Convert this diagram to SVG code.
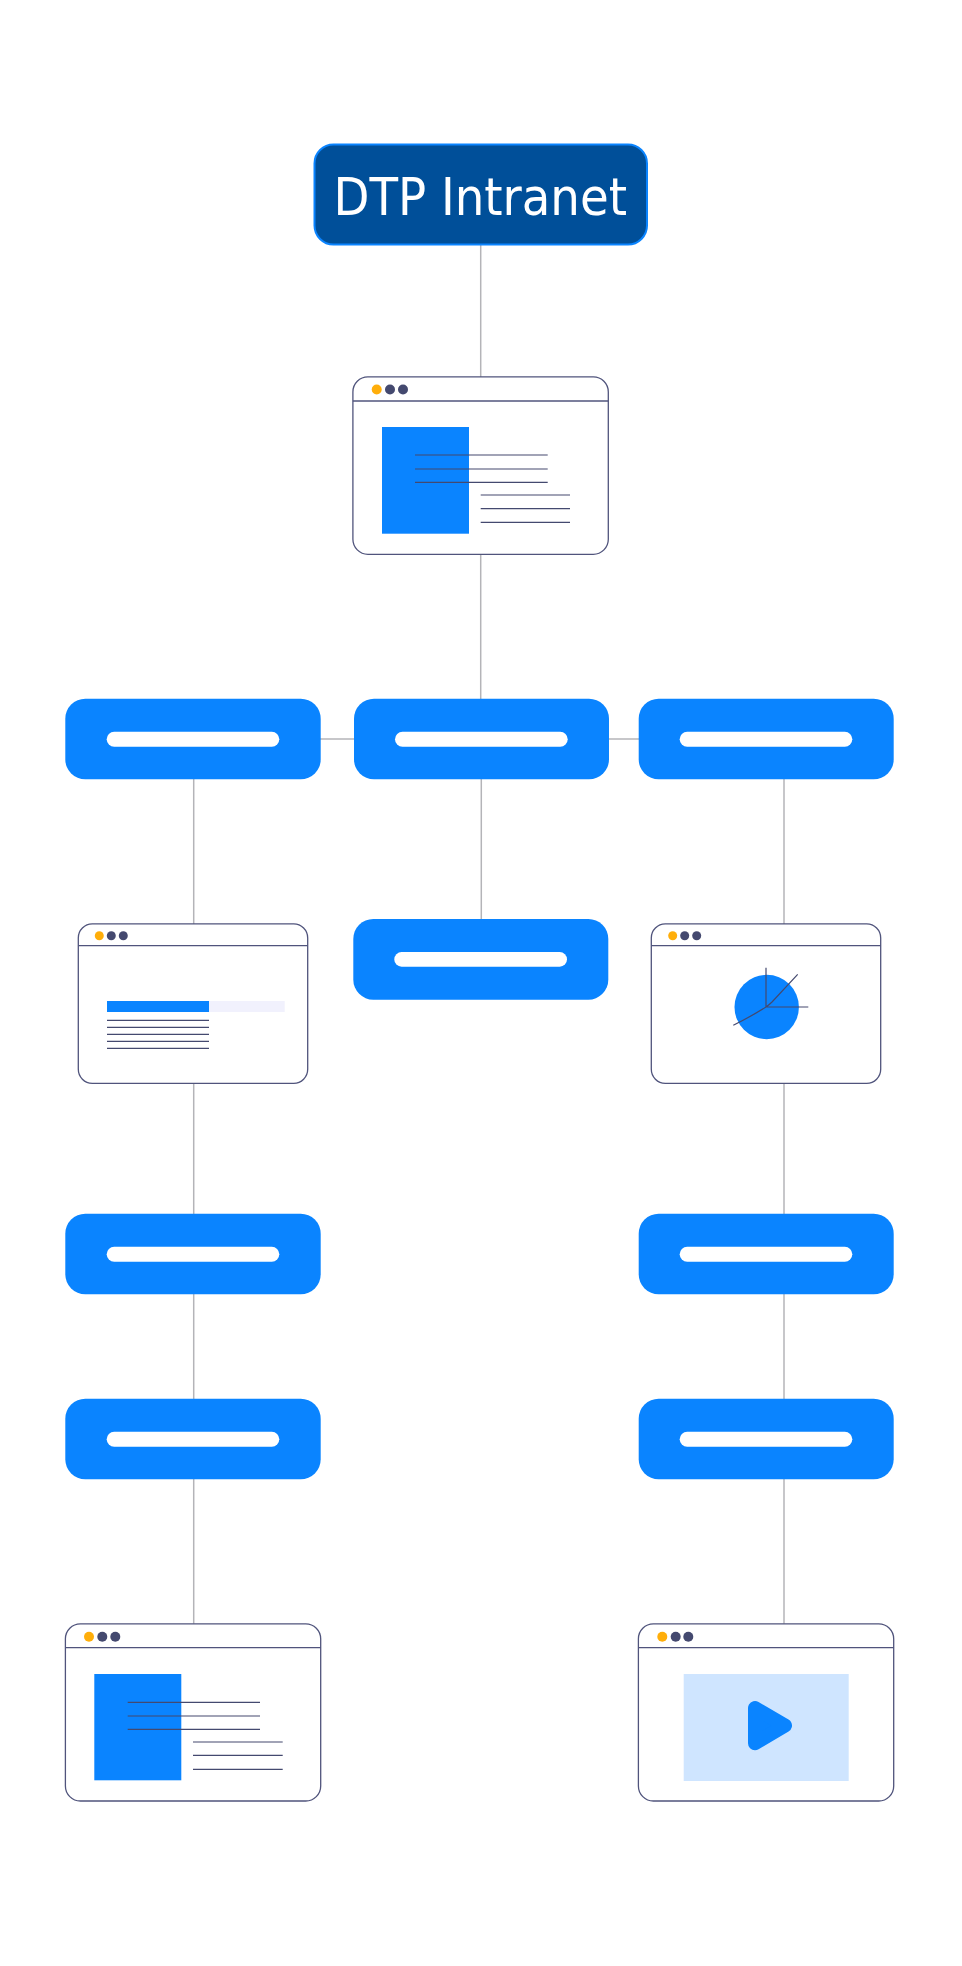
<svg xmlns="http://www.w3.org/2000/svg" width="962" height="1966" viewBox="0 0 962 1966">
<style>
.conn{stroke:#b4b4b8;stroke-width:1.5;fill:none}
.blue{fill:#0a84ff}
.bar{fill:#fff}
.win{fill:#fff;stroke:#50547c;stroke-width:1.3}
.rule{stroke:#50547c;stroke-width:1.3;fill:none}
.ln{stroke:#44496f;stroke-width:1.2;fill:none}
.amber{fill:#ffae0a}
.dot{fill:#44496f}
.title{font-family:"DejaVu Sans","Liberation Sans",sans-serif;font-stretch:condensed;font-size:52px;fill:#fff}
</style>
<rect width="962" height="1966" fill="#fff"/>
<g id="connectors">
<path class="conn" d="M480.7 245V377"/>
<path class="conn" d="M480.7 554V699"/>
<path class="conn" d="M320 739H355"/>
<path class="conn" d="M608 739H640"/>
<path class="conn" d="M481.3 779V919"/>
<path class="conn" d="M193.7 779V924"/>
<path class="conn" d="M784 779V924"/>
<path class="conn" d="M193.7 1083V1214"/>
<path class="conn" d="M784 1083V1214"/>
<path class="conn" d="M193.7 1294V1399"/>
<path class="conn" d="M784 1294V1399"/>
<path class="conn" d="M193.7 1479V1624"/>
<path class="conn" d="M784 1479V1624"/>
</g>
<g id="root">
<rect x="314.5" y="144.5" width="332.5" height="100" rx="19" fill="#004f99" stroke="#0a84ff" stroke-width="2"/>
<text class="title" x="333.5" y="215" textLength="293.5" lengthAdjust="spacingAndGlyphs">DTP Intranet</text>
</g>
<g id="window-top">
<rect class="win" x="352.9" y="376.9" width="255.4" height="177.4" rx="15"/>
<path class="rule" d="M352.9 401H608.3"/>
<circle class="amber" cx="376.7" cy="389.5" r="5"/><circle class="dot" cx="390" cy="389.5" r="5"/><circle class="dot" cx="403" cy="389.5" r="5"/>
<rect class="blue" x="382" y="427" width="87" height="106.7"/>
<path class="ln" d="M415 455H547.7M415 469H547.7M415 482.3H547.7M480.7 495H570M480.7 508.7H570M480.7 522.3H570"/>
</g>
<g id="node-left">
<rect class="blue" x="65.3" y="698.7" width="255.4" height="80.6" rx="20"/>
<rect class="bar" x="106.7" y="731.7" width="172.6" height="15" rx="7.5"/>
</g>
<g id="node-center">
<rect class="blue" x="354" y="698.7" width="255" height="80.6" rx="20"/>
<rect class="bar" x="395" y="731.7" width="172.7" height="15" rx="7.5"/>
</g>
<g id="node-right">
<rect class="blue" x="638.7" y="698.7" width="255" height="80.6" rx="20"/>
<rect class="bar" x="679.7" y="731.7" width="172.6" height="15" rx="7.5"/>
</g>
<g id="node-center-2">
<rect class="blue" x="353.3" y="919" width="255" height="80.7" rx="20"/>
<rect class="bar" x="394.3" y="952" width="172.7" height="14.7" rx="7.3"/>
</g>
<g id="window-table">
<rect class="win" x="78.3" y="923.9" width="229.4" height="159.4" rx="14"/>
<path class="rule" d="M78.3 945.7H307.7"/>
<circle class="amber" cx="99.3" cy="935.7" r="4.5"/><circle class="dot" cx="111.3" cy="935.7" r="4.5"/><circle class="dot" cx="123.3" cy="935.7" r="4.5"/>
<rect class="blue" x="107" y="1001" width="102" height="11"/>
<rect x="209" y="1001" width="75.7" height="11" fill="#f1f1fd"/>
<path class="ln" d="M107 1020.3H209M107 1027.3H209M107 1034.3H209M107 1041.3H209M107 1048.3H209"/>
</g>
<g id="window-chart">
<rect class="win" x="651.3" y="923.9" width="229.4" height="159.4" rx="14"/>
<path class="rule" d="M651.3 945.7H880.7"/>
<circle class="amber" cx="672.7" cy="935.7" r="4.5"/><circle class="dot" cx="684.7" cy="935.7" r="4.5"/><circle class="dot" cx="696.7" cy="935.7" r="4.5"/>
<circle class="blue" cx="766.7" cy="1007" r="32.2"/>
<path class="ln" d="M766 967.7V1007H808.3M797.7 974.3L772 1002Q769 1005 766 1007Q750 1017 733.3 1025.3"/>
</g>
<g id="node-left-3">
<rect class="blue" x="65.3" y="1213.7" width="255.4" height="80.6" rx="20"/>
<rect class="bar" x="106.7" y="1246.7" width="172.6" height="15" rx="7.5"/>
</g>
<g id="node-right-3">
<rect class="blue" x="638.7" y="1213.7" width="255" height="80.6" rx="20"/>
<rect class="bar" x="679.7" y="1246.7" width="172.6" height="15" rx="7.5"/>
</g>
<g id="node-left-4">
<rect class="blue" x="65.3" y="1398.7" width="255.4" height="80.6" rx="20"/>
<rect class="bar" x="106.7" y="1431.7" width="172.6" height="15" rx="7.5"/>
</g>
<g id="node-right-4">
<rect class="blue" x="638.7" y="1398.7" width="255" height="80.6" rx="20"/>
<rect class="bar" x="679.7" y="1431.7" width="172.6" height="15" rx="7.5"/>
</g>
<g id="window-doc">
<rect class="win" x="65.4" y="1623.8" width="255.3" height="177.2" rx="15"/>
<path class="rule" d="M65.4 1647.7H320.7"/>
<circle class="amber" cx="89" cy="1636.7" r="5"/><circle class="dot" cx="102.3" cy="1636.7" r="5"/><circle class="dot" cx="115.3" cy="1636.7" r="5"/>
<rect class="blue" x="94.3" y="1674" width="87" height="106.3"/>
<path class="ln" d="M127.7 1702.3H260M127.7 1716H260M127.7 1729.3H260M193 1742H282.7M193 1755.3H282.7M193 1769.3H282.7"/>
</g>
<g id="window-video">
<rect class="win" x="638.4" y="1623.8" width="255.3" height="177.2" rx="15"/>
<path class="rule" d="M638.4 1647.7H893.7"/>
<circle class="amber" cx="662.3" cy="1636.7" r="5"/><circle class="dot" cx="675.7" cy="1636.7" r="5"/><circle class="dot" cx="688.3" cy="1636.7" r="5"/>
<rect x="683.7" y="1674" width="165" height="107" fill="#cfe5ff"/>
<path class="blue" stroke="#0a84ff" stroke-width="14" stroke-linejoin="round" d="M755 1708V1743.3L785 1725.5Z"/>
</g>
</svg>
